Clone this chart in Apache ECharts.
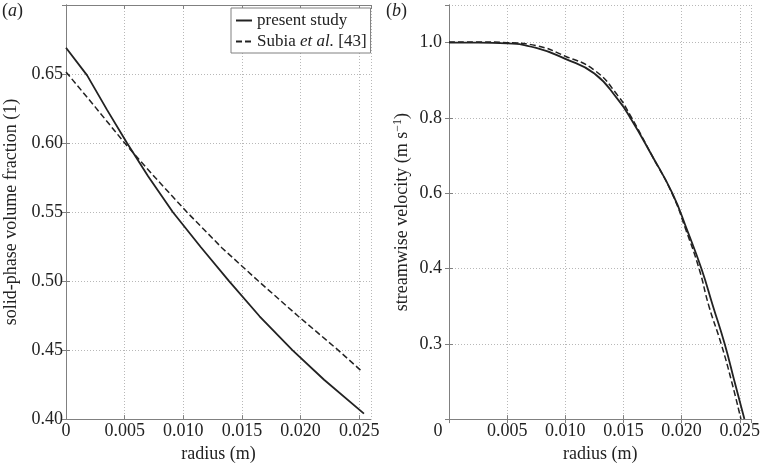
<!DOCTYPE html>
<html>
<head>
<meta charset="utf-8">
<script src="https://cdn.jsdelivr.net/npm/echarts@6/dist/echarts.min.js"></script>
<style>
html,body{margin:0;padding:0;background:#fff;}
#c{width:763px;height:468px;}
</style>
</head>
<body>
<div id="c"></div>
<script>
// ---- Data ----
// (a) solid-phase volume fraction vs radius
const radiusPresentA = [0, 0.0018, 0.0035, 0.0052, 0.0070, 0.0091, 0.0115, 0.0139, 0.0165, 0.0193, 0.0220, 0.0254];
const fractionPresentA = [0.669, 0.649, 0.624, 0.600, 0.576, 0.550, 0.5245, 0.500, 0.4745, 0.450, 0.4285, 0.404];
const radiusSubiaA = [0, 0.0025, 0.0050, 0.0076, 0.0103, 0.0133, 0.0164, 0.0198, 0.0232, 0.0251];
const fractionSubiaA = [0.6515, 0.626, 0.600, 0.575, 0.550, 0.524, 0.500, 0.4745, 0.450, 0.4355];
// (b) streamwise velocity vs radius
const radiusPresentB = [0, 0.0025, 0.005, 0.0075, 0.010, 0.0125, 0.0145, 0.0156, 0.0174, 0.0192, 0.0205, 0.0217, 0.0227, 0.0237, 0.02455, 0.0254];
const velocityPresentB = [1.000, 1.000, 0.998, 0.986, 0.957, 0.918, 0.850, 0.800, 0.703, 0.600, 0.500, 0.400, 0.300, 0.200, 0.100, 0.000];
const radiusSubiaB = [0, 0.0025, 0.005, 0.0075, 0.010, 0.0125, 0.0145, 0.0156, 0.0174, 0.0192, 0.0204, 0.0215, 0.02235, 0.0234, 0.0243, 0.0251];
const velocitySubiaB = [1.002, 1.002, 1.000, 0.992, 0.964, 0.927, 0.860, 0.806, 0.703, 0.598, 0.500, 0.400, 0.300, 0.200, 0.100, 0.000];

// Tick labels
const xTickValues = [0, 0.005, 0.010, 0.015, 0.020, 0.025];
const xTickLabels = ['0', '0.005', '0.010', '0.015', '0.020', '0.025'];
const yTickValuesA = [0.40, 0.45, 0.50, 0.55, 0.60, 0.65];
const yTickLabelsA = ['0.40', '0.45', '0.50', '0.55', '0.60', '0.65'];
const yTickValuesB = [0.2, 0.4, 0.6, 0.8, 1.0];
const yTickLabelsB = ['0.3', '0.4', '0.6', '0.8', '1.0'];

const seriesNames = ['present study', 'Subia et al. [43]'];

// ---- Chart ----
const FONT = 'Liberation Serif';
const TXT = '#222';
const AX = '#808080';
const zip = (xs, ys) => xs.map((x, i) => [x, ys[i]]);
const lookup = (vals, labels) => v => {
  const k = vals.findIndex(t => Math.abs(t - v) < 1e-9);
  return k < 0 ? '' : labels[k];
};

function xAxisMain(gridIndex, shiftZero) {
  return {
    type: 'value', gridIndex, min: 0, max: 0.026, interval: 0.005,
    name: 'radius (m)', nameLocation: 'middle', nameGap: 19,
    nameTextStyle: {fontFamily: FONT, fontSize: 18, color: TXT},
    axisLine: {show: true, lineStyle: {color: AX, width: 1}},
    axisTick: {show: true, inside: true, length: 4, lineStyle: {color: AX}},
    axisLabel: {
      show: true, margin: 3, showMaxLabel: false,
      fontFamily: FONT, fontSize: 18, color: TXT,
      formatter: v => {
        const s = lookup(xTickValues, xTickLabels)(v);
        if (shiftZero && s === '0') return '{z|0}';
        return s;
      },
      rich: {z: {fontFamily: FONT, fontSize: 18, color: TXT, padding: [0, 22, 0, 0]}}
    },
    splitLine: {show: true, lineStyle: {color: '#b8b8b8', type: [1, 2], width: 1}}
  };
}
function xAxisTop(gridIndex) {
  return {
    type: 'value', gridIndex, min: 0, max: 0.026, interval: 0.005, position: 'top',
    axisLine: {show: true, lineStyle: {color: AX, width: 1}},
    axisTick: {show: true, inside: true, length: 4, lineStyle: {color: AX}},
    axisLabel: {show: false}, splitLine: {show: false}
  };
}

const option = {
  animation: false,
  backgroundColor: '#fff',
  grid: [
    {left: 66, right: 392, top: 5, bottom: 44, containLabel: false},
    {left: 449, right: 10, top: 5, bottom: 44, containLabel: false}
  ],
  xAxis: [xAxisMain(0, false), xAxisMain(1, true), xAxisTop(0), xAxisTop(1)],
  yAxis: [
    {
      type: 'value', gridIndex: 0, min: 0.40, max: 0.70, interval: 0.05,
      name: 'solid-phase volume fraction (1)', nameLocation: 'middle', nameGap: 46, nameRotate: 90,
      nameTextStyle: {fontFamily: FONT, fontSize: 18, color: TXT},
      axisLine: {show: true, lineStyle: {color: AX, width: 1}},
      axisTick: {show: true, inside: true, length: 4, lineStyle: {color: AX}},
      axisLabel: {margin: 3, showMaxLabel: false, fontFamily: FONT, fontSize: 18, color: TXT,
        formatter: lookup(yTickValuesA, yTickLabelsA)},
      splitLine: {show: true, lineStyle: {color: '#b8b8b8', type: [1, 2], width: 1}}
    },
    {
      type: 'value', gridIndex: 1, min: 0, max: 1.1, interval: 0.2,
      name: '{n|streamwise velocity (m s}{s|−1}{n|)}', nameLocation: 'middle', nameGap: 36, nameRotate: 90,
      nameTextStyle: {fontFamily: FONT, fontSize: 18, color: TXT,
        rich: {
          n: {fontFamily: FONT, fontSize: 18, color: TXT},
          s: {fontFamily: FONT, fontSize: 12, color: TXT, padding: [0, 0, 9, 0]}
        }},
      axisLine: {show: true, lineStyle: {color: AX, width: 1}},
      axisTick: {show: true, inside: true, length: 4, lineStyle: {color: AX}},
      axisLabel: {margin: 7, showMaxLabel: false, showMinLabel: false, fontFamily: FONT, fontSize: 18, color: TXT,
        formatter: lookup(yTickValuesB, yTickLabelsB)},
      splitLine: {show: true, lineStyle: {color: '#b8b8b8', type: [1, 2], width: 1}}
    },
    {
      type: 'value', gridIndex: 0, min: 0.40, max: 0.70, interval: 0.05, position: 'right',
      axisLine: {show: true, lineStyle: {color: AX, width: 1}},
      axisTick: {show: true, inside: true, length: 4, lineStyle: {color: AX}},
      axisLabel: {show: false}, splitLine: {show: false}
    },
    {
      type: 'value', gridIndex: 1, min: 0, max: 1.1, interval: 0.2, position: 'right',
      axisLine: {show: true, lineStyle: {color: AX, width: 1}},
      axisTick: {show: true, inside: true, length: 4, lineStyle: {color: AX}},
      axisLabel: {show: false}, splitLine: {show: false}
    }
  ],
  legend: {
    show: true, orient: 'vertical', left: 231, top: 8,
    data: seriesNames,
    backgroundColor: '#fff', borderColor: AX, borderWidth: 1,
    padding: [4, 4, 3, 4], itemGap: 4, itemWidth: 16, itemHeight: 14,
    itemStyle: {opacity: 0},
    textStyle: {fontFamily: FONT, fontSize: 17, color: TXT,
      rich: {
        n: {fontFamily: FONT, fontSize: 17, color: TXT},
        i: {fontFamily: FONT, fontSize: 17, color: TXT, fontStyle: 'italic'}
      }},
    formatter: name => name === seriesNames[1] ? '{n|Subia }{i|et al.}{n| [43]}' : name
  },
  graphic: [
    {type: 'text', left: 2, top: 2, style: {text: '({i|a})', fontFamily: FONT, fontSize: 18, fill: TXT,
      rich: {i: {fontFamily: FONT, fontSize: 18, fontStyle: 'italic', fill: TXT}}}},
    {type: 'text', left: 386, top: 2, style: {text: '({i|b})', fontFamily: FONT, fontSize: 18, fill: TXT,
      rich: {i: {fontFamily: FONT, fontSize: 18, fontStyle: 'italic', fill: TXT}}}}
  ],
  series: [
    {name: seriesNames[0], type: 'line', xAxisIndex: 0, yAxisIndex: 0, symbol: 'none',
      data: zip(radiusPresentA, fractionPresentA),
      lineStyle: {color: '#222', width: 1.8, type: 'solid'}, itemStyle: {color: '#222'}},
    {name: seriesNames[1], type: 'line', xAxisIndex: 0, yAxisIndex: 0, symbol: 'none',
      data: zip(radiusSubiaA, fractionSubiaA),
      lineStyle: {color: '#222', width: 1.5, type: [6, 3]}, itemStyle: {color: '#222'}},
    {name: seriesNames[0], type: 'line', xAxisIndex: 1, yAxisIndex: 1, symbol: 'none', smooth: 0.5,
      data: zip(radiusPresentB, velocityPresentB),
      lineStyle: {color: '#222', width: 1.8, type: 'solid'}, itemStyle: {color: '#222'}},
    {name: seriesNames[1], type: 'line', xAxisIndex: 1, yAxisIndex: 1, symbol: 'none', smooth: 0.5,
      data: zip(radiusSubiaB, velocitySubiaB),
      lineStyle: {color: '#222', width: 1.5, type: [6, 3]}, itemStyle: {color: '#222'}}
  ]
};

const chart = echarts.init(document.getElementById('c'), null, {renderer: 'canvas'});
chart.setOption(option);
</script>
</body>
</html>
